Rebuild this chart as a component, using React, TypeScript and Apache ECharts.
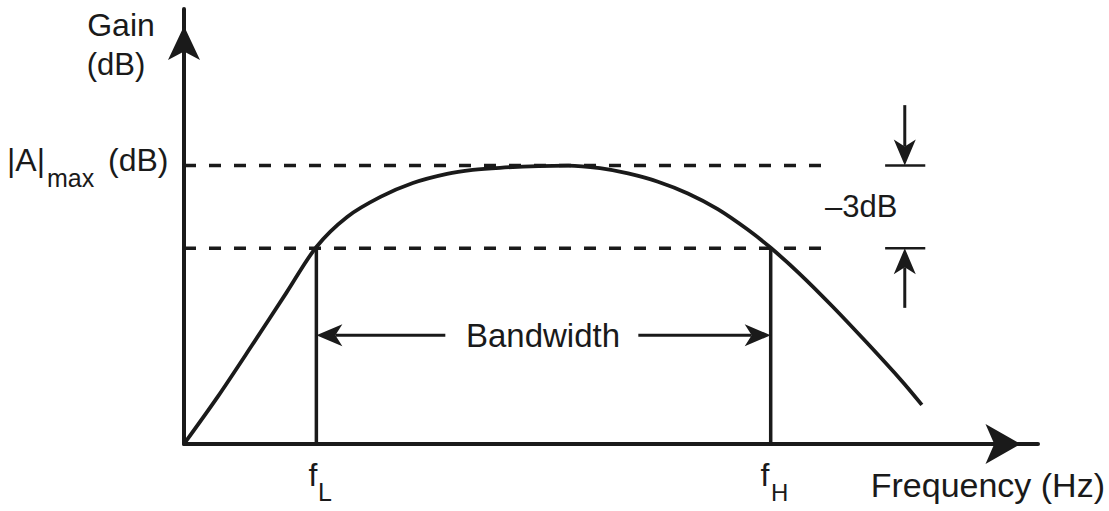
import React, { useEffect, useRef } from "react";
import * as echarts from "echarts";

// Frequency response curve (arbitrary frequency units vs gain units)
const FREQ = [0, 4, 8, 12, 15.5, 19.1, 23.0, 26.8, 30.8, 33.8, 37.0, 41.5, 45.0, 48.7, 52.0, 55.5, 59.0, 62.5, 66.0, 68.7, 72.0, 76.0, 80.0, 84.0, 86.4];
const GAIN = [0, 11, 22.8, 34.8, 45.3, 52.2, 56.8, 60.0, 62.1, 63.0, 63.5, 63.9, 64.0, 63.4, 62.2, 60.3, 57.6, 54.0, 49.3, 45.1, 39.3, 31.5, 23.2, 14.6, 9.0];

const F_L = 15.5;
const F_H = 68.7;
const GAIN_MAX = 64;
const GAIN_3DB = 45;
const DASH_END_MAX = 75;
const DASH_END_3DB = 74.7;
const BANDWIDTH_Y = 25;
// arrows: [fromX, fromY, tipX, tipY]
const BW_ARROWS = [
  [30.6, BANDWIDTH_Y, F_L, BANDWIDTH_Y],
  [53.2, BANDWIDTH_Y, F_H, BANDWIDTH_Y],
];
const DB_MARK_X = 84.4;
const DB_ARROWS = [
  [DB_MARK_X, 77.9, DB_MARK_X, GAIN_MAX],
  [DB_MARK_X, 31.3, DB_MARK_X, GAIN_3DB],
];
const DB_TICK_X = [82.1, 86.8];

const INK = "#1a1a1a";
const FONT = "'Liberation Sans', Arial, Helvetica, sans-serif";

function arrowItem(_params: any, api: any) {
  const p1 = api.coord([api.value(0), api.value(1)]);
  const p2 = api.coord([api.value(2), api.value(3)]);
  const dx = p2[0] - p1[0];
  const dy = p2[1] - p1[1];
  const len = Math.hypot(dx, dy) || 1;
  const ux = dx / len;
  const uy = dy / len;
  const nx = -uy;
  const ny = ux;
  const L = 26;
  const W = 22;
  const notch = 7;
  const bx = p2[0] - ux * L;
  const by = p2[1] - uy * L;
  const mx = p2[0] - ux * (L - notch);
  const my = p2[1] - uy * (L - notch);
  return {
    type: "group",
    children: [
      {
        type: "line",
        shape: { x1: p1[0], y1: p1[1], x2: mx, y2: my },
        style: { stroke: INK, lineWidth: 3 },
      },
      {
        type: "polygon",
        shape: {
          points: [
            [p2[0], p2[1]],
            [bx + (nx * W) / 2, by + (ny * W) / 2],
            [mx, my],
            [bx - (nx * W) / 2, by - (ny * W) / 2],
          ],
        },
        style: { fill: INK },
      },
    ],
  };
}

function txt(text: string, x: number, y: number, size: number, align: string) {
  return {
    type: "text",
    x,
    y,
    style: {
      text,
      font: `${size}px ${FONT}`,
      fill: INK,
      align,
      verticalAlign: "middle",
      textAlign: align,
      textVerticalAlign: "middle",
    },
  };
}

function line(data: number[][], width: number, dashed = false) {
  return {
    type: "line",
    data,
    symbol: "none",
    silent: true,
    lineStyle: { color: INK, width, type: dashed ? [12, 13] : "solid", cap: "butt" },
    z: 3,
  };
}

export default function App() {
  const ref = useRef<HTMLDivElement>(null);
  useEffect(() => {
    if (!ref.current) return;
    const chart = echarts.init(ref.current, null, { renderer: "svg" });
    const axisCommon = {
      type: "value",
      min: 0,
      max: 100,
      axisTick: { show: false },
      axisLabel: { show: false },
      splitLine: { show: false },
    };
    chart.setOption({
      animation: false,
      backgroundColor: "#ffffff",
      grid: { left: 184, right: 71, top: 9, bottom: 67 },
      xAxis: {
        ...axisCommon,
        axisLine: {
          show: true,
          onZero: false,
          symbol: ["none", "arrow"],
          symbolSize: [30, 35],
          symbolOffset: [0, -17.5],
          lineStyle: { color: INK, width: 4 },
        },
      },
      yAxis: {
        ...axisCommon,
        axisLine: {
          show: true,
          onZero: false,
          symbol: ["none", "arrow"],
          symbolSize: [24, 34],
          symbolOffset: [0, -17],
          lineStyle: { color: INK, width: 4 },
        },
      },
      series: [
        {
          type: "line",
          data: FREQ.map((f, i) => [f, GAIN[i]]),
          smooth: 0.3,
          symbol: "none",
          silent: true,
          lineStyle: { color: INK, width: 3.8 },
          z: 4,
        },
        line([[0, GAIN_MAX], [DASH_END_MAX, GAIN_MAX]], 3.5, true),
        line([[0, GAIN_3DB], [DASH_END_3DB, GAIN_3DB]], 3.5, true),
        line([[F_L, 0], [F_L, GAIN_3DB]], 3.5),
        line([[F_H, 0], [F_H, GAIN_3DB]], 3.5),
        line([[DB_TICK_X[0], GAIN_MAX], [DB_TICK_X[1], GAIN_MAX]], 2.5),
        line([[DB_TICK_X[0], GAIN_3DB], [DB_TICK_X[1], GAIN_3DB]], 2.5),
        {
          type: "custom",
          data: [...BW_ARROWS, ...DB_ARROWS],
          encode: { x: [0, 2], y: [1, 3] },
          renderItem: arrowItem,
          silent: true,
          z: 5,
        },
      ],
      graphic: [
        txt("Gain", 121, 25, 32, "center"),
        txt("(dB)", 116, 64, 31, "center"),
        txt("|A|", 45, 160, 32, "right"),
        txt("max", 47, 178, 25, "left"),
        txt("(dB)", 108, 160, 32, "left"),
        txt("f", 313, 475, 32, "center"),
        txt("L", 318, 492, 25, "left"),
        txt("f", 765, 475, 32, "center"),
        txt("H", 771, 492, 24, "left"),
        txt("Frequency (Hz)", 1105, 485, 34, "right"),
        txt("Bandwidth", 543, 335, 33, "center"),
        txt("–3dB", 825, 206, 31, "left"),
      ],
    });
    return () => chart.dispose();
  }, []);
  return (
    <div
      ref={ref}
      style={{ position: "fixed", left: 0, top: 0, width: 1109, height: 511, background: "#fff" }}
    />
  );
}
